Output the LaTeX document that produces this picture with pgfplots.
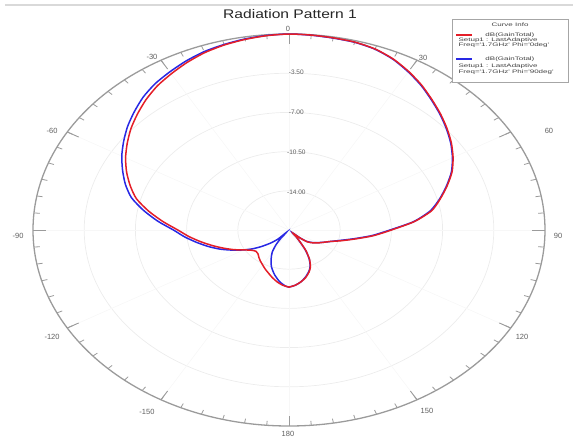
\documentclass[border=0pt]{standalone}
\usepackage{pgfplots}
\pgfplotsset{compat=1.18}
\usepackage{pgfplotstable}
\usepackage{graphicx}
\usepackage{fontspec}
\setmainfont{Liberation Sans}

\definecolor{curvered}{RGB}{228,30,40}
\definecolor{curveblue}{RGB}{40,40,228}
\definecolor{rimgray}{RGB}{155,155,155}
\definecolor{ringgray}{RGB}{236,236,236}
\definecolor{labelgray}{RGB}{95,95,95}

% Gain in dB against theta (degrees), Phi = 0 deg cut
\pgfplotstableread{
t db
-180 -12.4
-175 -12.55
-170 -12.8
-165 -13.1
-160 -13.4
-155 -13.65
-150 -13.9
-145 -14.1
-140 -14.3
-135 -14.5
-130 -14.55
-125 -14.35
-120 -13.95
-115 -13.35
-110 -12.75
-105 -12.1
-100 -11.4
-95 -10.65
-90 -9.9
-85 -8.85
-80 -7.75
-75 -6.7
-70 -5.95
-65 -5.25
-60 -4.6
-55 -4.0
-50 -3.4
-45 -2.85
-40 -2.3
-35 -1.8
-30 -1.4
-25 -1.0
-20 -0.65
-15 -0.4
-10 -0.22
-5 -0.08
0 0
5 -0.03
10 -0.08
15 -0.13
20 -0.3
25 -0.65
30 -1.15
35 -1.7
40 -2.3
45 -2.85
50 -3.4
55 -3.95
60 -4.55
65 -5.2
70 -6.0
75 -6.8
80 -7.6
85 -8.9
90 -10.5
95 -11.7
100 -12.9
105 -13.8
110 -14.5
115 -14.9
120 -15.2
125 -15.5
130 -15.85
133 -16.4
137 -17.1
141 -16.7
145 -16.1
148 -15.3
152 -14.5
156 -13.9
160 -13.5
165 -13.1
170 -12.8
175 -12.55
180 -12.4
}\phizero

% Gain in dB against theta (degrees), Phi = 90 deg cut
\pgfplotstableread{
t db
-180 -12.4
-177 -12.5
-172 -12.85
-166 -13.4
-160 -14.0
-155 -14.6
-150 -15.2
-146 -15.9
-143 -16.6
-140 -17.2
-137 -16.4
-133 -15.8
-128 -15.1
-124 -14.5
-120 -13.95
-115 -13.25
-110 -12.5
-105 -11.8
-100 -11.1
-95 -10.35
-90 -9.6
-85 -8.5
-80 -7.4
-75 -6.35
-70 -5.6
-65 -4.95
-60 -4.3
-55 -3.7
-50 -3.1
-45 -2.55
-40 -2.0
-35 -1.55
-30 -1.2
-25 -0.85
-20 -0.55
-15 -0.35
-10 -0.18
-5 -0.06
0 0
5 -0.04
10 -0.1
15 -0.15
20 -0.32
25 -0.68
30 -1.2
35 -1.75
40 -2.35
45 -2.9
50 -3.45
55 -4.0
60 -4.6
65 -5.25
70 -6.05
75 -6.85
80 -7.7
85 -8.95
90 -10.6
95 -11.8
100 -13.0
105 -13.9
110 -14.5
115 -14.9
120 -15.25
125 -15.55
130 -15.9
133 -16.45
137 -17.2
141 -16.75
145 -16.15
148 -15.35
152 -14.55
156 -13.95
160 -13.55
165 -13.15
170 -12.8
175 -12.55
180 -12.4
}\phininety

\begin{document}
\begin{tikzpicture}
\begin{axis}[
  scale only axis, width=573pt, height=437pt,
  xmin=-19.756, xmax=19.414, ymin=-18.482, ymax=20.536,
  hide axis, clip=false,
  every node/.append style={inner sep=0pt},
]
\coordinate (bbsw) at (rel axis cs:0,0);
\coordinate (bbne) at (rel axis cs:1,1);

% window rule along the top
\draw[gray!30, line width=1.5pt] (axis cs:-19.4,20.09) -- (axis cs:19.414,20.09);

% radial grid: the dB rings (-17.5 dB at the centre, 3.5 dB apart)
\pgfplotsinvokeforeach{3.5,7,10.5,14}{
  \draw[ringgray, line width=0.7pt] (axis cs:0,0) ellipse [x radius=#1, y radius=#1];
}
% angular grid every 30 degrees
\pgfplotsinvokeforeach{0,30,...,330}{
  \draw[gray!6, line width=0.6pt] (axis cs:0,0) -- (axis cs:{17.5*sin(#1)},{17.5*cos(#1)});
}
% outer rim with 5 degree ticks
\draw[rimgray, line width=1.3pt] (axis cs:0,0) ellipse [x radius=17.5, y radius=17.5];
\pgfplotsinvokeforeach{0,5,...,355}{
  \draw[rimgray, line width=0.8pt] (axis cs:{17.5*sin(#1)},{17.5*cos(#1)}) -- (axis cs:{17.1*sin(#1)},{17.1*cos(#1)});
}
\pgfplotsinvokeforeach{0,30,...,330}{
  \draw[rimgray, line width=0.9pt] (axis cs:{17.5*sin(#1)},{17.5*cos(#1)}) -- (axis cs:{16.6*sin(#1)},{16.6*cos(#1)});
}

% the two cuts; radius = gain + 17.5 dB, theta clockwise from the top
\addplot[curveblue, line width=1.5pt, smooth, tension=0.4]
  table[x expr={(\thisrow{db}+17.5)*sin(\thisrow{t})},
        y expr={(\thisrow{db}+17.5)*cos(\thisrow{t})}] {\phininety};
\addplot[curvered, line width=1.5pt, smooth, tension=0.4]
  table[x expr={(\thisrow{db}+17.5)*sin(\thisrow{t})},
        y expr={(\thisrow{db}+17.5)*cos(\thisrow{t})}] {\phizero};

% ring values
\begin{scope}[every node/.style={font=\fontsize{6.5}{7}\selectfont, text=labelgray}]
\node at (axis cs:0.5,14.1) {-3.50};
\node at (axis cs:0.5,10.5) {-7.00};
\node at (axis cs:0.5,6.96) {-10.50};
\node at (axis cs:0.5,3.39) {-14.00};
\end{scope}

% angle labels
\begin{scope}[every node/.style={font=\fontsize{7.5}{9}\selectfont, text=labelgray}]
\node at (axis cs:-0.07,17.95) {0};
\node at (axis cs:9.16,15.36) {30};
\node at (axis cs:17.77,8.84) {60};
\node at (axis cs:18.39,-0.54) {90};
\node at (axis cs:15.93,-9.55) {120};
\node at (axis cs:9.43,-16.16) {150};
\node at (axis cs:-0.07,-18.21) {180};
\node at (axis cs:-9.37,15.45) {-30};
\node at (axis cs:-16.2,8.84) {-60};
\node at (axis cs:-18.52,-0.54) {-90};
\node at (axis cs:-16.2,-9.55) {-120};
\node at (axis cs:-9.71,-16.25) {-150};
\end{scope}

% title
\node[font=\fontsize{12.5}{14}\selectfont, text=black!85] at (axis cs:0.07,19.29)
  {\scalebox{1.25}[1]{Radiation Pattern 1}};

% curve info box
\draw[gray!70, line width=0.6pt, fill=white] (axis cs:11.14,18.84) rectangle (axis cs:19.07,13.21);
\draw[curvered, line width=1.2pt] (axis cs:11.42,17.41) -- (axis cs:12.54,17.41);
\draw[curveblue, line width=1.2pt] (axis cs:11.42,15.27) -- (axis cs:12.54,15.27);
\begin{scope}[every node/.style={font=\fontsize{5}{5.5}\selectfont, text=black!75, anchor=west}]
\node[anchor=center] at (axis cs:15.11,18.30) {\scalebox{1.6}[1]{Curve Info}};
\node at (axis cs:13.19,17.41) {\scalebox{1.6}[1]{dB(GainTotal)}};
\node at (axis cs:11.35,16.96) {\scalebox{1.6}[1]{Setup1 : LastAdaptive}};
\node at (axis cs:11.35,16.52) {\scalebox{1.6}[1]{Freq=\textquotesingle1.7GHz\textquotesingle\ Phi=\textquotesingle0deg\textquotesingle}};
\node at (axis cs:13.19,15.27) {\scalebox{1.6}[1]{dB(GainTotal)}};
\node at (axis cs:11.35,14.64) {\scalebox{1.6}[1]{Setup1 : LastAdaptive}};
\node at (axis cs:11.35,14.11) {\scalebox{1.6}[1]{Freq=\textquotesingle1.7GHz\textquotesingle\ Phi=\textquotesingle90deg\textquotesingle}};
\end{scope}
\end{axis}
\pgfresetboundingbox
\path (bbsw) rectangle (bbne);
\end{tikzpicture}
\end{document}
